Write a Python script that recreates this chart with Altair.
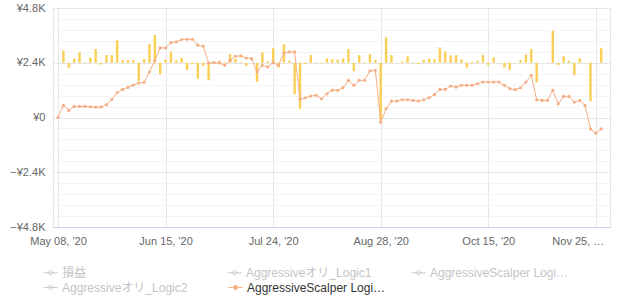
import json
import altair as alt
import pandas as pd

# ---- data ----
pnl = [0, 540, -220, 185, 450, 20, 230, 600, -80, 335,
       335, 980, 115, 110, 120, -800, 160, 820, 1215, -500,
       140, 490, 100, 215, -320, -60, -700, -135, -770, 60,
       90, 40, 380, 170, 30, -135, 0, -840, 450, 60,
       630, -210, 810, 85, -1385, -2015, -60, 335, 20, -30,
       187, 150, 130, 187, 598, -370, 335, 30, 370, 120,
       -2560, 1115, 335, 0, 60, 275, 20, -70, 120, 187,
       157, 672, 496, 320, 334, 142, -210, 37, 85, 335,
       -105, 230, 10, -210, -312, 10, 115, 360, 600, -855,
       0, 10, 1405, -105, 290, 85, -548, 195, 10, -1690,
       0, 635]

cum = [0, 530, 310, 485, 485, 485, 470, 455, 455, 560,
       790, 1085, 1230, 1320, 1420, 1510, 1540, 1995, 2510, 3050,
       3050, 3285, 3315, 3420, 3430, 3430, 3170, 3125, 2390, 2405,
       2390, 2290, 2510, 2685, 2700, 2610, 2580, 1995, 2290, 2215,
       2405, 2290, 2820, 2875, 2875, 790, 865, 940, 970, 820,
       1040, 1200, 1190, 1305, 1630, 1410, 1630, 1630, 2040, 2070,
       -205, 380, 720, 720, 780, 780, 750, 720, 780, 865,
       1010, 1230, 1230, 1380, 1335, 1410, 1410, 1410, 1480, 1555,
       1555, 1555, 1555, 1410, 1265, 1220, 1305, 1555, 1850, 780,
       750, 750, 1190, 600, 925, 925, 675, 750, 530, -500,
       -690, -500]

tick_idx = [0, 20, 40, 60, 80, 100]
tick_labels = ["May 08, '20", "Jun 15, '20", "Jul 24, '20",
               "Aug 28, '20", "Oct 15, '20", "Nov 25, \u2026"]
y_ticks = list(range(-4800, 4801, 480))

inactive_series = ["損益", "Aggressiveオリ_Logic1", "AggressiveScalper Logi\u2026",
                   "Aggressiveオリ_Logic2"]
active_series = ["AggressiveScalper Logi\u2026"]

# ---- styles ----
BAR = "#F9CF55"
LINE = "#F6AE84"
GREY_SYM = "#cccccc"
FONT = "Liberation Sans, Arial, Noto Sans CJK JP"
SYMBOL = "M-1,0L1,0M0.3,0A0.3,0.3,0,1,1,-0.3,0A0.3,0.3,0,1,1,0.3,0Z"

n = len(cum)
df = pd.DataFrame({"idx": list(range(n)), "pnl": pnl, "cum": cum,
                   "series": active_series * n})
leg_df = pd.DataFrame({"series": inactive_series,
                       "order": list(range(len(inactive_series)))})

x_enc = alt.X(
    "idx:Q",
    scale=alt.Scale(domain=[0, 101.7], nice=False, zero=False),
    axis=alt.Axis(
        values=tick_idx,
        labelExpr=f"{json.dumps(tick_labels, ensure_ascii=False)}[indexof({json.dumps(tick_idx)}, datum.value)]",
        title=None, grid=True, gridColor="#e6e6e6", ticks=False, tickSize=0,
        domainColor="#ccd6eb", labelPadding=8, labelFlush=False,
        labelColor="#666666", labelFontSize=11, labelFont=FONT,
        labelOffset={"condition": {"test": "datum.value === 100", "value": -18}, "value": 0},
    ),
)

y_label_expr = ("datum.value % 2400 === 0 ? ((datum.value < 0 ? '\u2212\u00a5' : '\u00a5') + "
                "(datum.value === 0 ? '0' : format(abs(datum.value) / 1000, '.1f') + 'K')) : ''")

y_scale = alt.Scale(domain=[-4800, 4800], nice=False)
y_axis = alt.Axis(
    values=y_ticks, labelExpr=y_label_expr, title=None, domain=False,
    ticks=False, tickSize=0, labelPadding=8, labelColor="#666666",
    labelFontSize=11, labelFont=FONT,
    gridColor={"condition": {"test": "datum.value % 2400 === 0", "value": "#e6e6e6"},
               "value": "#f4f4f4"},
)

base = alt.Chart(df)

bars = base.transform_calculate(
    top="datum.pnl + 2400", bottom="2400"
).mark_bar(color=BAR, size=2.4).encode(
    x=x_enc,
    y=alt.Y("top:Q", scale=y_scale, axis=y_axis),
    y2="bottom:Q",
)

line = base.mark_line(color=LINE, strokeWidth=1).encode(
    x=x_enc,
    y=alt.Y("cum:Q", scale=y_scale, axis=y_axis),
)

points = base.mark_point(filled=True, size=10, opacity=1).encode(
    x=x_enc,
    y=alt.Y("cum:Q", scale=y_scale, axis=y_axis),
    color=alt.Color(
        "series:N",
        scale=alt.Scale(domain=active_series, range=[LINE]),
        legend=alt.Legend(
            title=None, orient="none", legendX=175, legendY=272, padding=0,
            symbolType=SYMBOL, symbolSize=196, symbolStrokeWidth=1,
            symbolFillColor=LINE, symbolStrokeColor=LINE, symbolOpacity=1,
            labelColor="#333333", labelFontSize=12, labelFont=FONT,
            labelOffset=4, labelLimit=300,
        ),
    ),
)

legend_dummy = alt.Chart(leg_df).mark_point(opacity=0).encode(
    x=alt.value(-300),
    y=alt.value(-300),
    color=alt.Color(
        "series:N",
        sort=inactive_series,
        scale=alt.Scale(domain=inactive_series, range=[GREY_SYM] * 4),
        legend=alt.Legend(
            title=None, orient="none", legendX=-10, legendY=257, padding=0,
            direction="horizontal", columns=3, gridAlign="all",
            columnPadding=24, rowPadding=1,
            symbolType=SYMBOL, symbolSize=196, symbolStrokeWidth=1,
            symbolFillColor=GREY_SYM, symbolStrokeColor=GREY_SYM, symbolOpacity=1,
            labelColor="#c4c4c4", labelFontSize=12, labelFont=FONT,
            labelOffset=4, labelLimit=300,
        ),
    ),
)

chart = alt.layer(bars, line, points, legend_dummy).resolve_scale(
    color="independent"
).properties(
    width=557, height=219,
    autosize=alt.AutoSizeParams(type="none"),
    padding={"left": 53, "top": 8, "right": 14, "bottom": 77},
    background="white",
).configure_view(stroke="#e6e6e6")

chart.save("out.html", embed_options={"renderer": "svg", "actions": False})
